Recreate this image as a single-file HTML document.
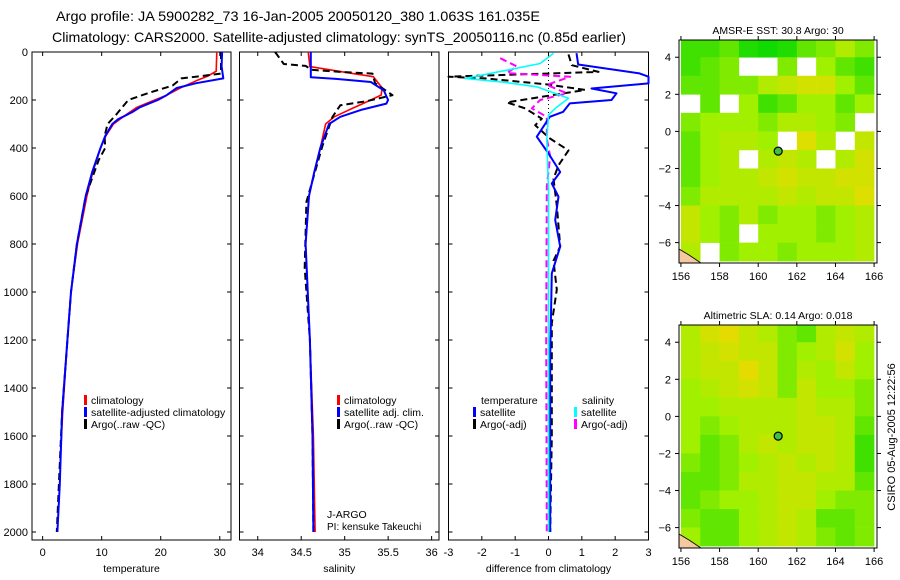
<!DOCTYPE html>
<html><head><meta charset="utf-8"><style>
body{margin:0;background:#fff;}
svg{display:block;font-family:"Liberation Sans",sans-serif;}
</style></head><body>
<svg id="chart" width="900" height="580" viewBox="0 0 900 580" xmlns="http://www.w3.org/2000/svg">
<text x="56" y="21" font-size="14" textLength="484" lengthAdjust="spacingAndGlyphs">Argo profile: JA 5900282_73 16-Jan-2005 20050120_380 1.063S 161.035E</text>
<text x="52" y="42" font-size="14" textLength="574" lengthAdjust="spacingAndGlyphs">Climatology: CARS2000. Satellite-adjusted climatology: synTS_20050116.nc (0.85d earlier)</text>
<g id="plots"></g>
</svg>
<script>
// ---------- data ----------
const depthTicks=[0,200,400,600,800,1000,1200,1400,1600,1800,2000];
const tempTicks=[0,10,20,30];
const salTicks=[34,34.5,35,35.5,36];
const diffTicks=[-3,-2,-1,0,1,2,3];
const latTicks=[4,2,0,-2,-4,-6];
const lonTicks=[156,158,160,162,164,166];

const tClimDepth=[0,80,100,120,150,180,200,230,260,300,350,400,500,600,800,1000,1200,1500,1700];
const tClimVal=[29.5,29.4,28,26,23.3,21,19,16,14.2,12,10.7,9.8,8.5,7.5,5.9,4.8,4.2,3.4,3.0];
const tSatDepth=[0,60,110,130,150,180,200,230,250,280,300,350,400,500,600,800,1000,1200,1500,1800,2000];
const tSatVal=[30.4,30.3,30.6,26,22.7,21,19.5,16.5,15.2,12.8,11.8,10.6,9.8,8.4,7.3,5.8,4.8,4.2,3.3,2.9,2.5];
const tArgoDepth=[0,90,100,110,140,170,200,230,260,300,350,400,450,600,800,1000,1500,2000];
const tArgoVal=[30.2,30.2,27,23.5,22,18,14.5,13.5,12.5,11,10.5,10.6,9.5,7.3,5.8,4.8,3.3,2.4];

const sClimDepth=[0,61,88,103,150,179,200,233,270,300,400,500,600,800,1200,1600,2000];
const sClimVal=[34.58,34.6,35.06,35.33,35.43,35.42,35.3,35.1,34.88,34.78,34.72,34.65,34.59,34.55,34.6,34.64,34.66];
const sSatDepth=[0,105,112,125,160,200,215,240,270,300,400,500,600,800,1200,1600,2000];
const sSatVal=[34.61,34.61,34.9,35.3,35.45,35.5,35.48,35.2,34.95,34.82,34.72,34.65,34.59,34.55,34.6,34.63,34.64];
const sArgoDepth=[0,50,58,74,83,90,130,180,205,222,270,396,625,900,1200,1600,2000];
const sArgoVal=[34.2,34.3,34.55,34.62,34.95,35.32,35.35,35.55,35.25,34.95,34.86,34.74,34.56,34.54,34.6,34.63,34.64];

const dTSatDepth=[5,52,89,103,131,152,172,200,214,249,270,353,423,500,548,603,700,811,922,1270,1600,2000];
const dTSatVal=[0.84,0.89,2.73,3.0,3.0,1.29,2.04,1.89,0.64,0.44,0.04,-0.35,0,0.35,0.1,0.3,0.2,0.35,0.1,0.05,0.05,0.05];
const dTArgoDepth=[10,55,83,103,110,135,158,210,235,278,305,360,410,472,528,640,810,870,990,1130,1600,2000];
const dTArgoVal=[0.6,0.7,1.5,-3,-1.9,-0.05,1.1,-1.25,-0.7,-0.2,-0.4,0.04,0.6,0.3,0.15,0.25,0.35,0.15,0.25,0.1,0.1,0.05];
const dSSatDepth=[5,48,76,110,124,145,193,235,262,367,575,1000,2000];
const dSSatVal=[0.15,-0.25,-1.25,-2.5,-1.45,-0.35,0.6,0.2,0,-0.05,0,0,0];
const dSArgoDepth=[26,60,88,103,137,172,200,235,270,360,436,560,1200,2000];
const dSArgoVal=[-1.45,-0.95,-1.25,0.65,-0.05,0.55,-0.25,-0.5,-0.05,-0.05,0.05,-0.05,-0.07,-0.05];

// SST map (1 deg cells, rows from lat 5 down to -7, cols lon 156..166); null = no data
const sstGrid=[
[0.2,0.2,0.3,0.1,0.05,0.1,0.3,0.4,0.6,0.4],
[0.2,0.3,0.4,null,null,0.4,null,0.5,0.3,0.2],
[0.3,0.3,0.4,0.4,0.6,0.7,0.8,0.8,0.5,0.3],
[null,0.3,null,0.5,0.2,0.3,0.5,0.5,0.3,0.5],
[0.4,0.5,0.5,0.5,0.4,0.6,0.6,0.5,0.4,null],
[0.3,0.5,0.6,0.6,0.5,null,0.85,0.6,null,0.7],
[0.3,0.5,0.6,null,0.6,0.7,0.6,null,0.6,0.8],
[0.3,0.5,0.6,0.6,0.7,0.8,0.7,0.7,0.8,0.8],
[0.4,0.6,0.6,0.6,0.6,0.7,0.6,0.7,0.7,0.85],
[0.7,0.5,0.4,0.6,0.4,0.5,0.5,0.4,0.5,0.6],
[0.7,0.5,0.4,null,0.5,0.5,0.5,0.4,0.5,0.6],
[0.6,null,0.4,0.5,0.5,0.4,0.5,0.5,0.5,0.6]];
const slaGrid=[
[0.6,0.8,0.9,0.7,0.6,0.4,0.3,0.6,0.7,0.6],
[0.6,0.7,0.8,0.7,0.7,0.4,0.5,0.6,0.8,0.5],
[0.6,0.7,0.7,0.9,0.7,0.4,0.6,0.5,0.7,0.5],
[0.5,0.6,0.7,0.8,0.7,0.4,0.7,0.5,0.5,0.4],
[0.5,0.5,0.6,0.6,0.6,0.6,0.7,0.6,0.6,0.4],
[0.5,0.4,0.5,0.6,0.6,0.6,0.7,0.7,0.6,0.3],
[0.5,0.3,0.4,0.6,0.7,0.6,0.7,0.7,0.6,0.2],
[0.4,0.3,0.4,0.5,0.6,0.7,0.6,0.7,0.6,0.2],
[0.3,0.3,0.4,0.6,0.6,0.7,0.7,0.6,0.6,0.3],
[0.3,0.4,0.5,0.5,0.6,0.7,0.7,0.5,0.4,0.4],
[0.4,0.3,0.3,0.5,0.6,0.7,0.6,0.3,0.3,0.4],
[0.5,0.3,0.3,0.5,0.6,0.7,0.6,0.4,0.3,0.4]];
const argoLon=161.035, argoLat=-1.063;

// ---------- drawing ----------
const NS='http://www.w3.org/2000/svg';
const root=document.getElementById('plots');
function el(tag,attrs,parent){const e=document.createElementNS(NS,tag);for(const k in attrs)e.setAttribute(k,attrs[k]);(parent||root).appendChild(e);return e;}
const Y0=52,Y1=540,DPX=0.24;
const yD=d=>Y0+d*DPX;

function panel(name,x0,x1,xmin,xmax,ticks,label,showY){
  const sx=v=>x0+(v-xmin)/(xmax-xmin)*(x1-x0);
  const g=el('g',{});
  
  
  const f=el('rect',{x:x0,y:Y0,width:x1-x0,height:Y1-Y0,fill:'none',stroke:'#000','stroke-width':1},g);
  
  
  ticks.forEach(t=>{const X=sx(t);
    el('line',{x1:X,x2:X,y1:Y1,y2:Y1-4,stroke:'#000'},g);
    el('line',{x1:X,x2:X,y1:Y0,y2:Y0+4,stroke:'#000'},g);
    const tx=el('text',{x:X,y:Y1+16,'font-size':11,'text-anchor':'middle'},g);tx.textContent=String(t);
    
    
  });
  depthTicks.forEach(d=>{const Y=yD(d);
    el('line',{x1:x0,x2:x0+4,y1:Y,y2:Y,stroke:'#000'},g);
    el('line',{x1:x1,x2:x1-4,y1:Y,y2:Y,stroke:'#000'},g);
    if(showY){const tx=el('text',{x:x0-4,y:Y+4,'font-size':11,'text-anchor':'end'},g);tx.textContent=String(d);
      
      }
  });
  const lt=el('text',{x:(x0+x1)/2,y:572,'font-size':10.5,'text-anchor':'middle'},g);lt.textContent=label;
  
  
  return {sx,g};
}
function series(p,name,depths,vals,color,w,dash){
  const pts=depths.map((d,i)=>p.sx(vals[i]).toFixed(1)+','+yD(d).toFixed(1)).join(' ');
  const a={points:pts,fill:'none',stroke:color,'stroke-width':w,'stroke-linejoin':'round'};
  if(dash)a['stroke-dasharray']=dash;
  const l=el('polyline',a,p.g);
  
  
}
function legend(p,x,y,color,text,name){
  const m=el('rect',{x:x,y:y-8,width:3,height:10,fill:color},p.g);
  
  
  const t=el('text',{x:x+7,y:y+1,'font-size':10.5},p.g);t.textContent=text;
  
  
}

const pT=panel('temperature',32,231,-1.8,31.9,tempTicks,'temperature',true);
series(pT,'temp-climatology-line',tClimDepth,tClimVal,'#ff0000',1.6);
series(pT,'temp-argo-line',tArgoDepth,tArgoVal,'#000',2,'7,4');
series(pT,'temp-satellite-line',tSatDepth,tSatVal,'#0000ff',2);
legend(pT,84,403,'#ff0000','climatology','temp-legend-climatology');
legend(pT,84,415,'#0000ff','satellite-adjusted climatology','temp-legend-satellite');
legend(pT,84,427,'#000','Argo(..raw -QC)','temp-legend-argo');

const pS=panel('salinity',239.5,439,33.79,36.085,salTicks,'salinity',false);
series(pS,'sal-climatology-line',sClimDepth,sClimVal,'#ff0000',1.6);
series(pS,'sal-argo-line',sArgoDepth,sArgoVal,'#000',2,'7,4');
series(pS,'sal-satellite-line',sSatDepth,sSatVal,'#0000ff',2);
legend(pS,337,403,'#ff0000','climatology','sal-legend-climatology');
legend(pS,337,415,'#0000ff','satellite adj. clim.','sal-legend-satellite');
legend(pS,337,427,'#000','Argo(..raw -QC)','sal-legend-argo');
const j1=el('text',{x:327,y:518,'font-size':10.5},pS.g);j1.textContent='J-ARGO';


const j2=el('text',{x:327,y:530,'font-size':10},pS.g);j2.textContent='PI: kensuke Takeuchi';



const pD=panel('difference',448.5,648.5,-3,3,diffTicks,'difference from climatology',false);
el('line',{x1:pD.sx(0),x2:pD.sx(0),y1:Y0,y2:yD(300),stroke:'#000','stroke-dasharray':'1,3'},pD.g);
series(pD,'diff-temp-argo-line',dTArgoDepth,dTArgoVal,'#000',2,'7,4');
series(pD,'diff-sal-argo-line',dSArgoDepth,dSArgoVal,'#ff00ff',2,'7,4');
series(pD,'diff-temp-satellite-line',dTSatDepth,dTSatVal,'#0000ff',2);
series(pD,'diff-sal-satellite-line',dSSatDepth,dSSatVal,'#00ffff',1.6);
const lt1=el('text',{x:481,y:404,'font-size':10.5},pD.g);lt1.textContent='temperature';


legend(pD,473,415,'#0000ff','satellite','diff-legend-temp-satellite');
legend(pD,473,427,'#000','Argo(-adj)','diff-legend-temp-argo');
const lt2=el('text',{x:582,y:404,'font-size':10.5},pD.g);lt2.textContent='salinity';


legend(pD,574,415,'#00ffff','satellite','diff-legend-sal-satellite');
legend(pD,574,427,'#ff00ff','Argo(-adj)','diff-legend-sal-argo');

// ---------- maps ----------
function colorOf(v){ // 0 green -> 0.5 yellow-green -> 1 yellow-orange
  let r,g,b=0;
  if(v<0.5){const t=v/0.5;r=Math.round(0+t*160);g=Math.round(215+t*(240-215));}
  else{const t=(v-0.5)/0.5;r=Math.round(160+t*(245-160));g=Math.round(240-t*(240-215));}
  return `rgb(${r},${g},${b})`;
}
function map(name,title,grid,x0,x1,y0,y1){
  const g=el('g',{});
  
  
  const lonMin=155.9,lonMax=166.15,latMax=4.93,latMin=-7.1;
  const sx=v=>x0+(v-lonMin)/(lonMax-lonMin)*(x1-x0);
  const sy=v=>y0+(latMax-v)/(latMax-latMin)*(y1-y0);
  el('rect',{x:x0,y:y0,width:x1-x0,height:y1-y0,fill:'#fff'},g);
  grid.forEach((row,ri)=>row.forEach((v,ci)=>{
    if(v===null)return;
    const la=5-ri, lo=156+ci;
    const X0=Math.max(x0,sx(lo)),X1=Math.min(x1,sx(lo+1)),YA=Math.max(y0,sy(la)),YB=Math.min(y1,sy(la-1));
    const c=el('rect',{x:X0,y:YA,width:X1-X0+0.3,height:YB-YA+0.3,fill:colorOf(v)},g);
    
    
  }));
  el('path',{d:`M${x0},${y1} L${x0},${y1-14} L${x0+10},${y1-8} L${x0+22},${y1} Z`,fill:'#f4c8a0',stroke:'#000','stroke-width':0.8},g);
  const f=el('rect',{x:x0,y:y0,width:x1-x0,height:y1-y0,fill:'none',stroke:'#000'},g);
  
  
  latTicks.forEach(t=>{const Y=sy(t);
    el('line',{x1:x0-4,x2:x0,y1:Y,y2:Y,stroke:'#000'},g);
    el('line',{x1:x1,x2:x1+4,y1:Y,y2:Y,stroke:'#000'},g);
    const tx=el('text',{x:x0-8,y:Y+4,'font-size':11,'text-anchor':'end'},g);tx.textContent=String(t).replace('-','\u2212');
    
    
  });
  lonTicks.forEach(t=>{const X=sx(t);
    el('line',{x1:X,x2:X,y1:y1,y2:y1+4,stroke:'#000'},g);
    el('line',{x1:X,x2:X,y1:y0,y2:y0-4,stroke:'#000'},g);
    const tx=el('text',{x:X,y:y1+17,'font-size':11,'text-anchor':'middle'},g);tx.textContent=String(t);
    
    
  });
  const c=el('circle',{cx:sx(argoLon),cy:sy(argoLat),r:4,fill:'#40c040',stroke:'#000','stroke-width':1.2},g);
  
  
  const tt=el('text',{x:(x0+x1)/2,y:y0-6,'font-size':10.5,'text-anchor':'middle'},g);tt.textContent=title;
  
  
}
map('sst-map','AMSR-E SST: 30.8 Argo: 30',sstGrid,679,877,40,263);
map('sla-map','Altimetric SLA: 0.14 Argo: 0.018',slaGrid,679,877,325,548);
const cs=el('text',{x:0,y:0,'font-size':11,'text-anchor':'middle',transform:'translate(895,437) rotate(-90)'});
cs.textContent='CSIRO 05-Aug-2005 12:22:56';


</script>
</body></html>
